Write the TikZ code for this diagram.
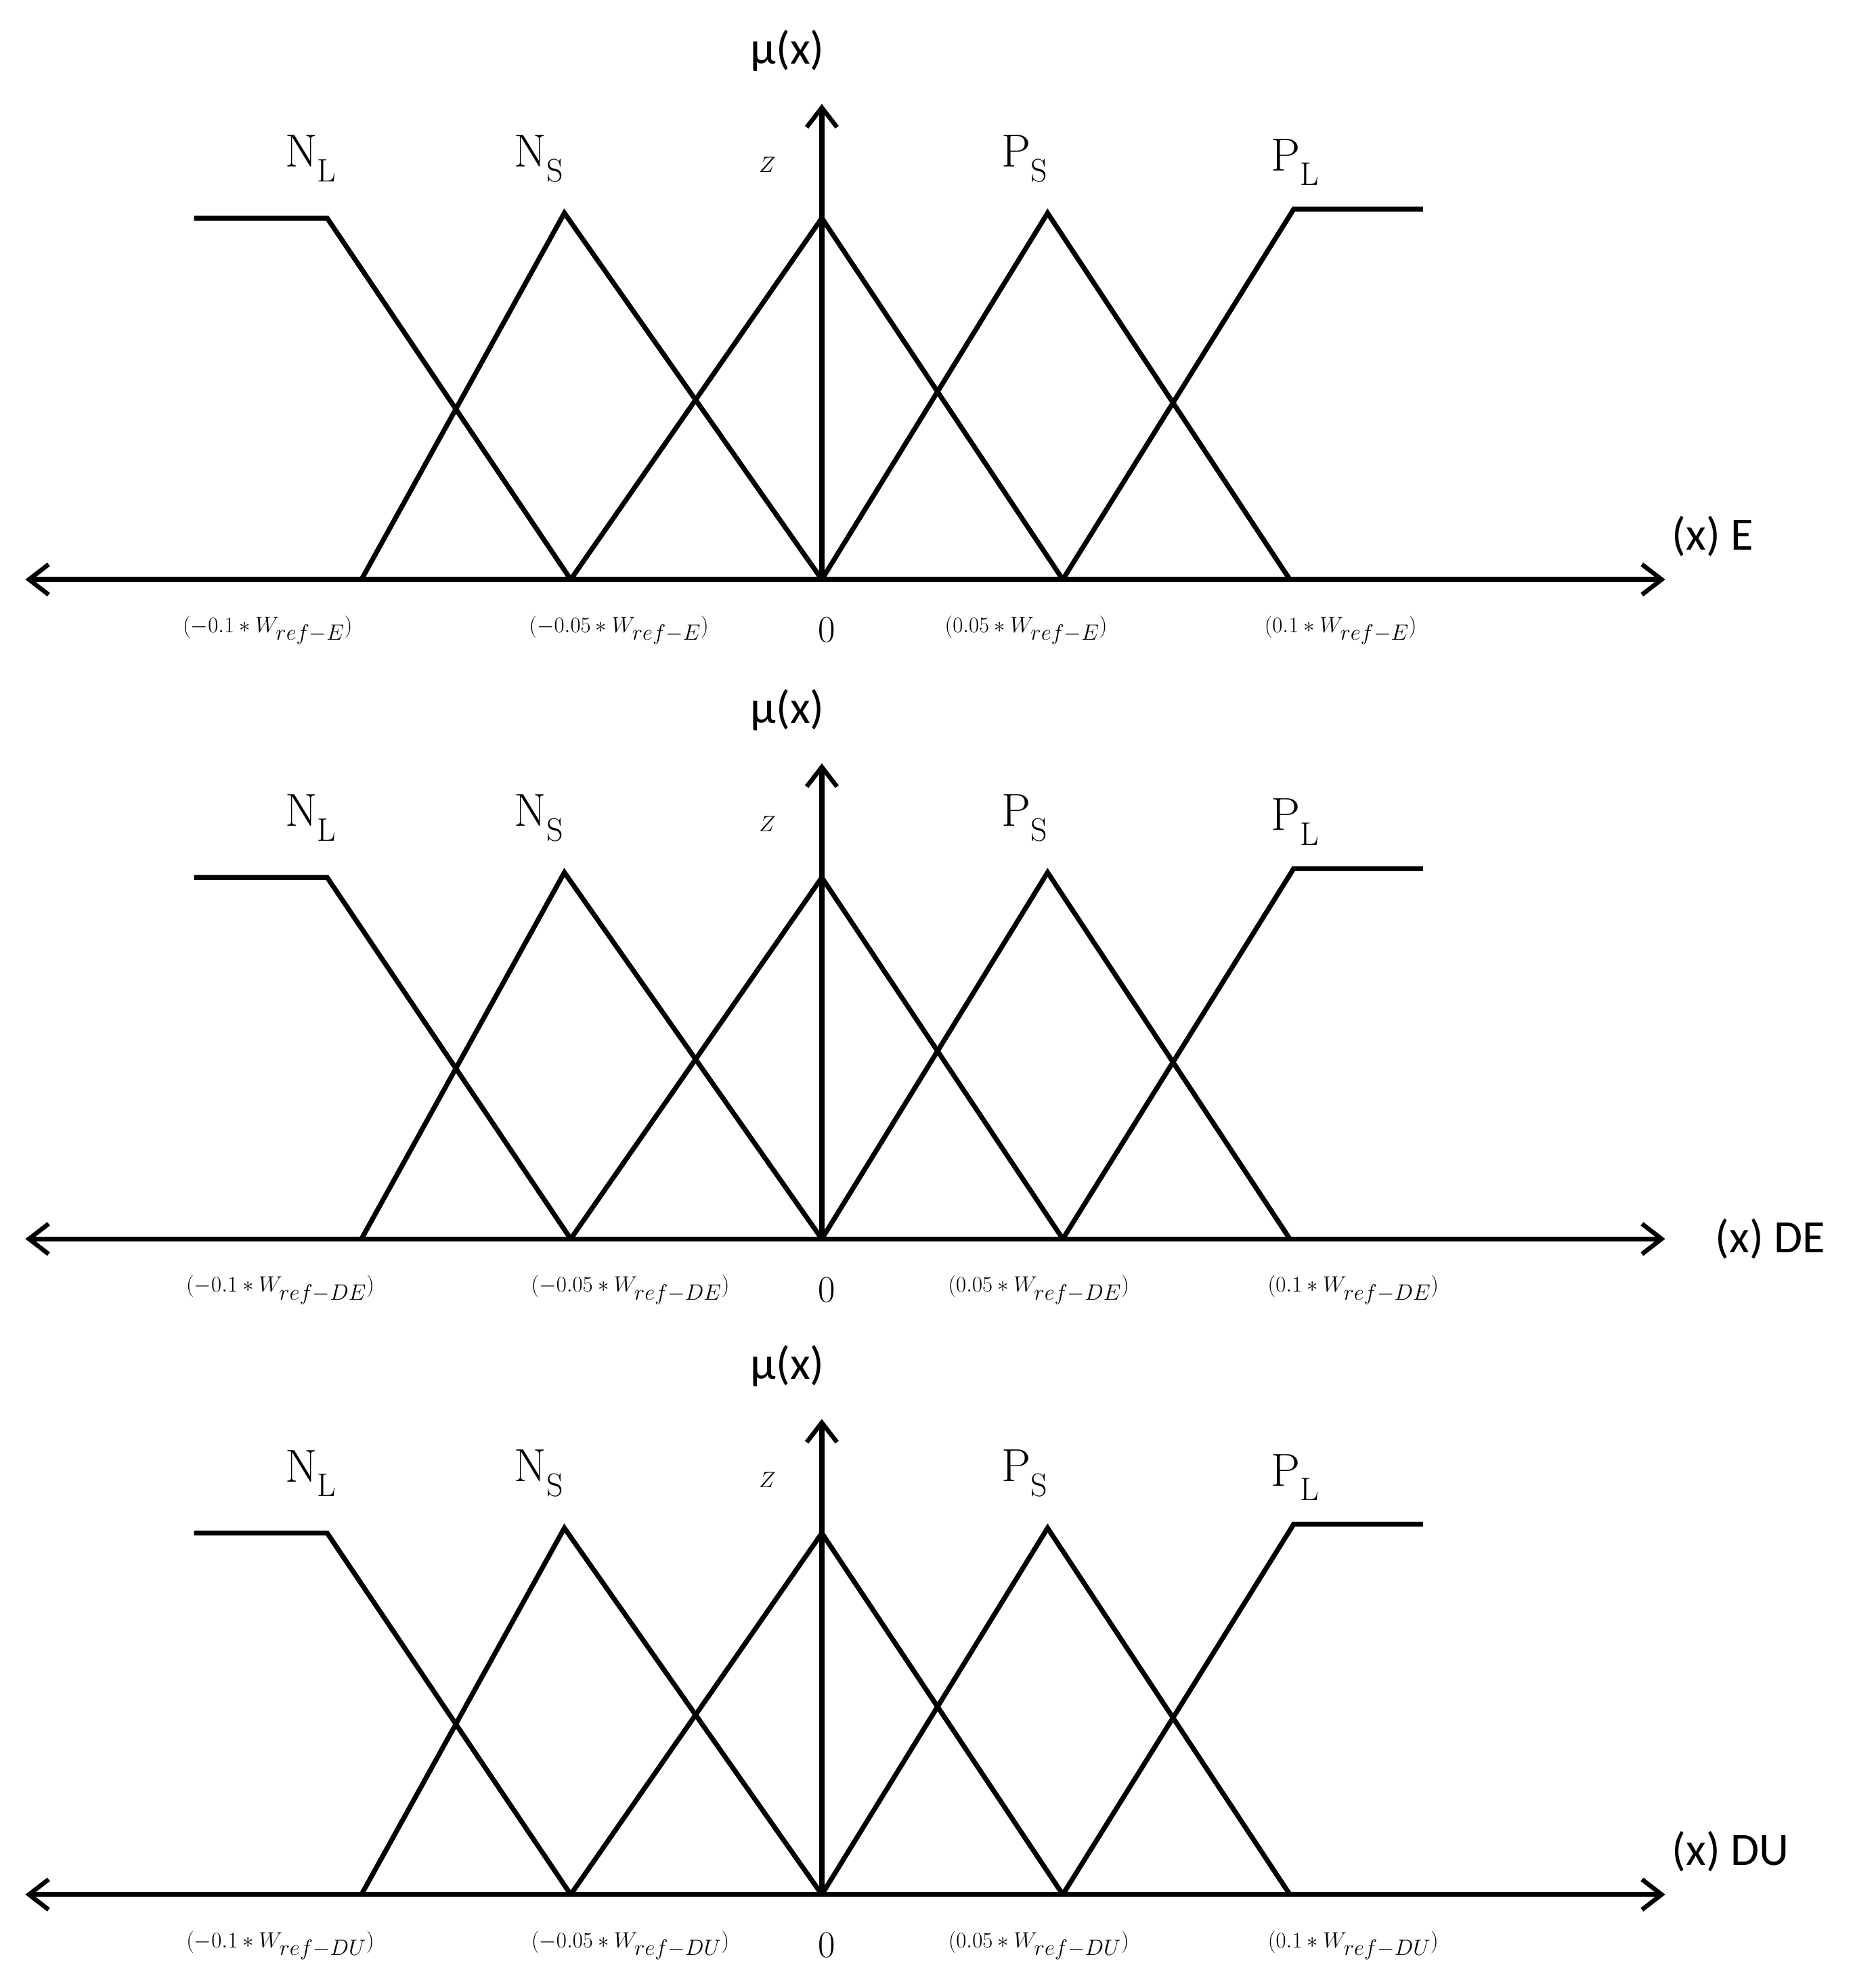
\documentclass[tikz,border=0pt]{standalone}
\usepackage{fontspec}
\setsansfont{Carlito}
\usetikzlibrary{arrows.meta}
\tikzset{
  mf/.style={line width=5.5pt, line join=miter},
  ax/.style={line width=5.5pt, -{Straight Barb[length=22pt,width=34pt,line width=5pt]}},
  ax2/.style={line width=5.5pt, {Straight Barb[length=22pt,width=34pt,line width=5pt]}-{Straight Barb[length=22pt,width=34pt,line width=5pt]}},
  setlbl/.style={font=\fontsize{52}{60}\selectfont},
  mulbl/.style={font=\sffamily\fontsize{52}{60}\selectfont},
  tick/.style={font=\fontsize{42}{50}\selectfont},
}
\newcommand{\fzpanel}[4]{%
  % #1 offset, #2 suffix, #3 axis label, #4 axis label position
  \coordinate (L#2) at (20,457+#1);
  \coordinate (R#2) at (1313,457+#1);
  \coordinate (O#2) at (648,457+#1);
  \coordinate (T#2) at (648,82+#1);
  \draw[ax2] (L#2) -- (R#2);
  \draw[ax] (O#2) -- (T#2);
  \coordinate (nla#2) at (153,172+#1);
  \coordinate (nlb#2) at (258,172+#1);
  \coordinate (nlc#2) at (450,457+#1);
  \coordinate (nsa#2) at (285,457+#1);
  \coordinate (nsb#2) at (445,168+#1);
  \coordinate (za#2) at (450,457+#1);
  \coordinate (zb#2) at (648,172+#1);
  \coordinate (zc#2) at (838,457+#1);
  \coordinate (psb#2) at (826,168+#1);
  \coordinate (psc#2) at (1017,457+#1);
  \coordinate (plb#2) at (1020,165+#1);
  \coordinate (plc#2) at (1122,165+#1);
  \draw[mf] (nla#2) -- (nlb#2) -- (nlc#2);
  \draw[mf] (nsa#2) -- (nsb#2) -- (O#2);
  \draw[mf] (za#2) -- (zb#2) -- (zc#2);
  \draw[mf] (O#2) -- (psb#2) -- (psc#2);
  \draw[mf] (zc#2) -- (plb#2) -- (plc#2);
  \node[setlbl] (nl#2) at (245,125+#1) {N\textsubscript{L}};
  \node[setlbl] (ns#2) at (425,125+#1) {N\textsubscript{S}};
  \node[setlbl] (z#2) at (605,130+#1) {$Z$};
  \node[setlbl] (ps#2) at (808,125+#1) {P\textsubscript{S}};
  \node[setlbl] (pl#2) at (1021,128+#1) {P\textsubscript{L}};
  \node[mulbl] (mu#2) at (621,40+#1) {μ(x)};
  \node[mulbl,anchor=west] (xl#2) at #4 {#3};
  \node[tick] (zero#2) at (652,497+#1) {0};
}
\begin{document}
\begin{tikzpicture}[x=0.05cm,y=-0.05cm]
\useasboundingbox (0,0) rectangle (1479,1563);
\fzpanel{0}{a}{(x) E}{(1316,423)}
\node[tick] (t1a) at (211,497) {$(-0.1*W_{ref-E})$};
\node[tick] (t2a) at (488,497) {$(-0.05*W_{ref-E})$};
\node[tick] (t3a) at (809,497) {$(0.05*W_{ref-E})$};
\node[tick] (t4a) at (1057,497) {$(0.1*W_{ref-E})$};
\fzpanel{520}{b}{(x) DE}{(1350,977)}
\node[tick] (t1b) at (221,1017) {$(-0.1*W_{ref-DE})$};
\node[tick] (t2b) at (497,1017) {$(-0.05*W_{ref-DE})$};
\node[tick] (t3b) at (819,1017) {$(0.05*W_{ref-DE})$};
\node[tick] (t4b) at (1067,1017) {$(0.1*W_{ref-DE})$};
\fzpanel{1037}{c}{(x) DU}{(1316,1460)}
\node[tick] (t1c) at (221,1534) {$(-0.1*W_{ref-DU})$};
\node[tick] (t2c) at (497,1534) {$(-0.05*W_{ref-DU})$};
\node[tick] (t3c) at (819,1534) {$(0.05*W_{ref-DU})$};
\node[tick] (t4c) at (1067,1534) {$(0.1*W_{ref-DU})$};
\end{tikzpicture}
\end{document}
